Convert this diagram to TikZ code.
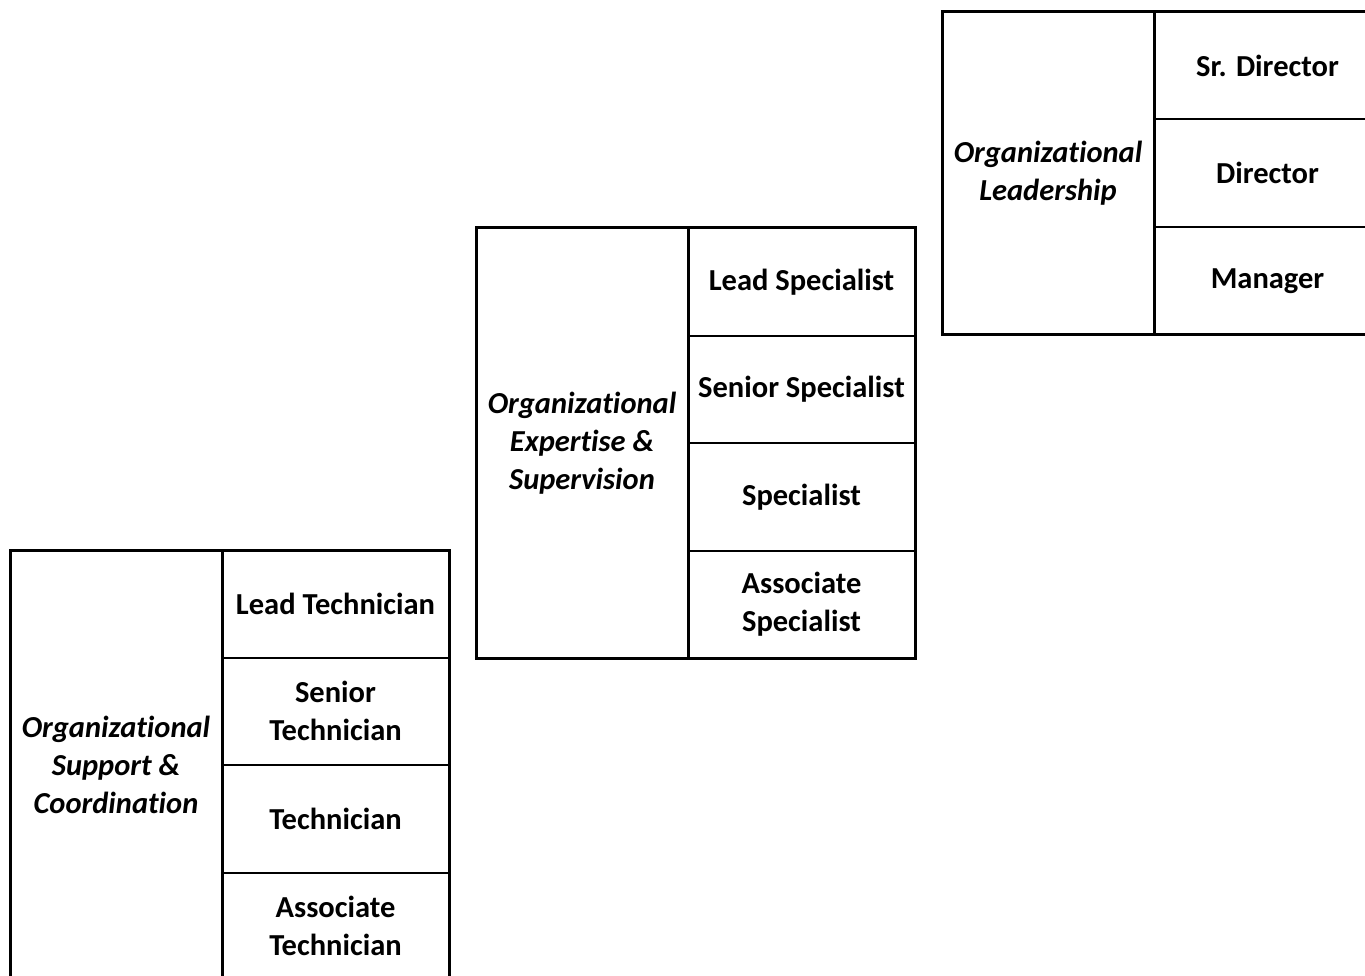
\documentclass[tikz,border=0pt]{standalone}
\usepackage{fontspec}
\setmainfont[Ligatures=NoCommon]{Carlito}
\usetikzlibrary{positioning}

\tikzset{
  group/.style={minimum width=212pt, align=center, inner sep=0pt, outer sep=0pt,
    font=\bfseries\itshape\fontsize{30.5}{38}\selectfont},
  cell/.style={draw, line width=2pt, minimum width=227pt, minimum height=107.5pt,
    align=center, inner sep=0pt, outer sep=0pt,
    font=\bfseries\fontsize{30.5}{38}\selectfont},
  frame/.style={line width=3pt},
}

\begin{document}
\begin{tikzpicture}[x=1pt,y=-1pt]
  \path[use as bounding box, clip] (0,0) rectangle (1365,976);

  % support & coordination
  \node[group, minimum height=430pt, anchor=north west] (sup) at (10,550)
    {Organizational\\Support \&\\Coordination};
  \node[cell, anchor=north west] (sup1) at (sup.north east) {Lead Technician};
  \node[cell, below=0pt of sup1] (sup2) {Senior\\Technician};
  \node[cell, below=0pt of sup2] (sup3) {Technician};
  \node[cell, below=0pt of sup3] (sup4) {Associate\\Technician};
  \draw[frame] (sup.north west) rectangle (sup4.south east);
  \draw[frame] (sup.north east) -- (sup.south east);

  % expertise & supervision
  \node[group, minimum height=430pt, anchor=north west] (exp) at (476,228)
    {Organizational\\Expertise \&\\Supervision};
  \node[cell, anchor=north west] (exp1) at (exp.north east) {Lead Specialist};
  \node[cell, below=0pt of exp1] (exp2) {Senior Specialist};
  \node[cell, below=0pt of exp2] (exp3) {Specialist};
  \node[cell, below=0pt of exp3] (exp4) {Associate\\Specialist};
  \draw[frame] (exp.north west) rectangle (exp4.south east);
  \draw[frame] (exp.north east) -- (exp.south east);

  % leadership
  \node[group, minimum height=322.5pt, anchor=north west] (lead) at (942,12)
    {Organizational\\Leadership};
  \node[cell, anchor=north west] (lead1) at (lead.north east) {Sr. Director};
  \node[cell, below=0pt of lead1] (lead2) {Director};
  \node[cell, below=0pt of lead2] (lead3) {Manager};
  \draw[frame] (lead.north west) rectangle (lead3.south east);
  \draw[frame] (lead.north east) -- (lead.south east);
\end{tikzpicture}
\end{document}
